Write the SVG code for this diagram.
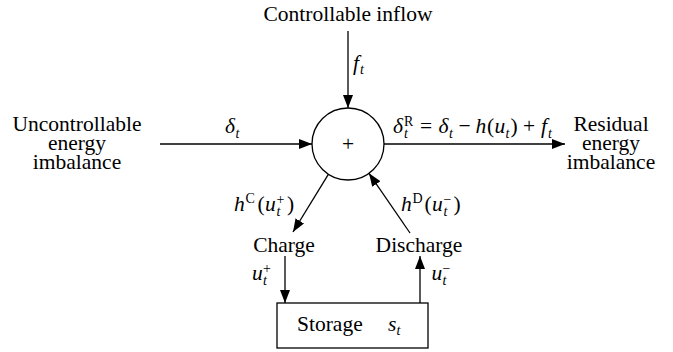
<svg xmlns="http://www.w3.org/2000/svg" width="673" height="352" viewBox="0 0 673 352">
<style>
  text { font-family: "Liberation Serif", "Times New Roman", serif; fill: #000; }
  .rm { font-size: 21.5px; }
  .it { font-size: 21.5px; font-style: italic; }
  .sc { font-size: 14px; }
  .si { font-size: 14px; font-style: italic; }
  .mid { text-anchor: middle; }
  .ln { stroke: #000; stroke-width: 1.3; fill: none; marker-end: url(#arr); }
  .shape { stroke: #000; stroke-width: 1.3; fill: #fff; }
</style>
<defs>
  <marker id="arr" markerUnits="userSpaceOnUse" markerWidth="14" markerHeight="11" refX="13" refY="5" orient="auto">
    <path d="M0,0 L13,5 L0,10 Z" fill="#000"/>
  </marker>
</defs>
<rect width="673" height="352" fill="#fff"/>

<g id="connectors">
  <line class="ln" x1="348" y1="31" x2="348" y2="108"/>
  <line class="ln" x1="160" y1="144" x2="312" y2="144"/>
  <line class="ln" x1="384" y1="144" x2="565" y2="144"/>
  <line class="ln" x1="328.5" y1="174.2" x2="293" y2="232"/>
  <line class="ln" x1="410" y1="233" x2="369" y2="173.3"/>
  <line class="ln" x1="285" y1="256" x2="285" y2="303"/>
  <line class="ln" x1="420" y1="303" x2="420" y2="256"/>
</g>

<g id="connector-labels">
  <g id="label-ft">
    <text class="it" x="353" y="70">f</text>
    <text class="si" x="360" y="74">t</text>
  </g>
  <g id="label-delta">
    <text class="it" x="225" y="133">δ</text>
    <text class="si" x="235.5" y="137.5">t</text>
  </g>
  <g id="label-residual">
    <text class="it" x="393" y="133">δ</text>
    <text class="sc" x="404" y="126">R</text>
    <text class="si" x="404" y="138">t</text>
    <text class="rm" x="420" y="133">=</text>
    <text class="it" x="438.5" y="133">δ</text>
    <text class="si" x="449" y="138">t</text>
    <text class="rm" x="458.5" y="133">−</text>
    <text class="it" x="475.5" y="133">h</text>
    <text class="rm" x="487" y="133">(</text>
    <text class="it" x="494.5" y="133">u</text>
    <text class="si" x="505.5" y="138">t</text>
    <text class="rm" x="510.5" y="133">)</text>
    <text class="rm" x="523" y="133">+</text>
    <text class="it" x="541" y="133">f</text>
    <text class="si" x="548" y="138">t</text>
  </g>
  <g id="label-hC">
    <text class="it" x="234" y="211">h</text>
    <text class="sc" x="245.5" y="203">C</text>
    <text class="rm" x="257.5" y="211">(</text>
    <text class="it" x="265" y="211">u</text>
    <text class="sc" x="276.5" y="204">+</text>
    <text class="si" x="276.5" y="216">t</text>
    <text class="rm" x="287" y="211">)</text>
  </g>
  <g id="label-hD">
    <text class="it" x="401" y="211">h</text>
    <text class="sc" x="412.5" y="203">D</text>
    <text class="rm" x="424.5" y="211">(</text>
    <text class="it" x="432" y="211">u</text>
    <text class="sc" x="443.5" y="204">−</text>
    <text class="si" x="443.5" y="216">t</text>
    <text class="rm" x="453.5" y="211">)</text>
  </g>
  <g id="label-uplus">
    <text class="it" x="252" y="280">u</text>
    <text class="sc" x="263" y="273">+</text>
    <text class="si" x="263" y="285">t</text>
  </g>
  <g id="label-uminus">
    <text class="it" x="431.5" y="280">u</text>
    <text class="sc" x="442.5" y="273">−</text>
    <text class="si" x="442.5" y="285">t</text>
  </g>
</g>

<g id="node-inflow">
  <text class="rm mid" x="348" y="21">Controllable inflow</text>
</g>
<g id="node-uncontrollable">
  <text class="rm mid" x="77" y="131">Uncontrollable</text>
  <text class="rm mid" x="77" y="150">energy</text>
  <text class="rm mid" x="77" y="169">imbalance</text>
</g>
<g id="node-sum">
  <circle class="shape" cx="348" cy="144" r="36"/>
  <text class="rm mid" x="348" y="151">+</text>
</g>
<g id="node-residual">
  <text class="rm mid" x="611" y="131">Residual</text>
  <text class="rm mid" x="611" y="150">energy</text>
  <text class="rm mid" x="611" y="169">imbalance</text>
</g>
<g id="node-charge">
  <text class="rm mid" x="284" y="252">Charge</text>
</g>
<g id="node-discharge">
  <text class="rm mid" x="419" y="252">Discharge</text>
</g>
<g id="node-storage">
  <rect class="shape" x="277" y="303" width="151" height="45"/>
  <text class="rm" x="297" y="331">Storage</text>
  <text class="it" x="388" y="331">s</text>
  <text class="si" x="396.5" y="335">t</text>
</g>
</svg>
